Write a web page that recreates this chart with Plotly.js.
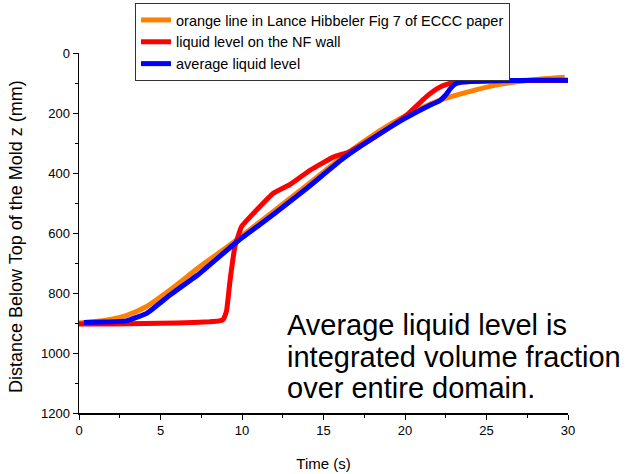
<!DOCTYPE html>
<html><head><meta charset="utf-8">
<script src="https://cdn.plot.ly/plotly-3.0.1.min.js"></script>
<style>body{margin:0;padding:0;background:#fff}#chart{width:634px;height:474px}</style>
</head><body><div id="chart"></div>
<script>
const orangeT = [0, 1, 2, 2.9, 4.15, 5.58, 7.42, 9.67, 12, 14, 16.2, 18, 20, 22.1, 24, 25.5, 26.85, 28.5, 29.8];
const orangeZ = [900, 895, 887, 875, 845, 790, 712, 623, 525, 440, 345, 275, 210, 158, 128, 108, 96, 86, 81];
const redT = [0, 2, 4, 6, 8, 8.6, 8.85, 9.05, 9.27, 9.57, 9.98, 10.9, 11.9, 12.7, 12.9, 14.2, 15.6, 16.6, 18, 19, 20.1, 21.3, 22, 22.6, 23.4, 25, 27, 30];
const redZ = [903, 903, 902, 900, 896, 893, 888, 860, 757, 645, 578, 523, 468, 445, 440, 390, 347, 329, 285, 250, 207, 146, 118, 104, 97, 93, 92, 92];
const blueT = [0.3, 1.5, 2.9, 4.15, 5.58, 7.42, 9.67, 12, 14, 16.2, 18, 20, 21.5, 22.1, 22.5, 22.8, 23.1, 23.5, 24, 26, 28, 30];
const blueZ = [898, 897, 893, 868, 807, 734, 630, 535, 450, 352, 285, 218, 175, 160, 140, 118, 103, 97, 95, 92, 91, 91];
const seriesNames = ["orange line in Lance Hibbeler Fig 7 of ECCC paper", "liquid level on the NF wall", "average liquid level"];
const xTicks = [0, 5, 10, 15, 20, 25, 30];
const yTicks = [0, 200, 400, 600, 800, 1000, 1200];
const noteLines = ["Average liquid level is", "integrated volume fraction", "over entire domain."];
const xTitle = 'Time (s)';
const yTitle = 'Distance Below Top of the Mold z (mm)';

const lw = 5;
const traces = [
  {x: orangeT, y: orangeZ, name: seriesNames[0], mode: 'lines', line: {color: '#ff8000', width: lw, shape: 'spline', smoothing: 0.6}},
  {x: redT, y: redZ, name: seriesNames[1], mode: 'lines', line: {color: '#ff0000', width: lw, shape: 'spline', smoothing: 0.4}},
  {x: blueT, y: blueZ, name: seriesNames[2], mode: 'lines', line: {color: '#0000ff', width: lw, shape: 'spline', smoothing: 0.3}}
];
const font = 'Liberation Sans, Arial, sans-serif';
const L = 79, T = 53, W = 489, H = 360;
const noteY = [325, 357, 388];
const annotations = noteLines.map((s, i) => ({
  xref: 'paper', yref: 'paper', x: (285 - L) / W, y: (T + H - noteY[i]) / H,
  xanchor: 'left', yanchor: 'middle', align: 'left', showarrow: false, text: s,
  font: {family: font, size: 29, color: '#000'}
}));
annotations.push({
  xref: 'paper', yref: 'paper', x: (16 - L) / W, y: (T + H - 237) / H,
  xanchor: 'center', yanchor: 'middle', textangle: -90, showarrow: false, text: yTitle,
  font: {family: font, size: 18, color: '#000'}
});
const layout = {
  width: 634, height: 474,
  margin: {l: L, r: 634 - L - W, t: T, b: 474 - T - H, autoexpand: false},
  paper_bgcolor: '#fff', plot_bgcolor: '#fff',
  font: {family: font, size: 13, color: '#000'},
  showlegend: true,
  legend: {x: (135 - L) / W, y: 1 + (T - 3) / H, xanchor: 'left', yanchor: 'top',
           bordercolor: '#333', borderwidth: 1, bgcolor: '#fff',
           font: {family: font, size: 14.5, color: '#000'}, itemwidth: 30, tracegroupgap: 0},
  xaxis: {range: [0, 30], tickvals: xTicks, ticks: 'outside', ticklen: 5, tickwidth: 1, tickcolor: '#000',
          showline: true, linecolor: '#000', linewidth: 1.5, showgrid: false, zeroline: false,
          minor: {dtick: 2.5, ticks: 'outside', ticklen: 3, tickcolor: '#000', showgrid: false},
          tickfont: {size: 13},
          title: {text: xTitle, font: {family: font, size: 15}}},
  yaxis: {range: [1200, 0], tickvals: yTicks, ticks: 'outside', ticklen: 5, tickwidth: 1, tickcolor: '#000',
          showline: true, linecolor: '#000', linewidth: 1.5, showgrid: false, zeroline: false,
          minor: {dtick: 100, ticks: 'outside', ticklen: 3, tickcolor: '#000', showgrid: false},
          tickfont: {size: 13}},
  annotations: annotations
};
Plotly.newPlot('chart', traces, layout, {displayModeBar: false, staticPlot: true});
</script></body></html>
